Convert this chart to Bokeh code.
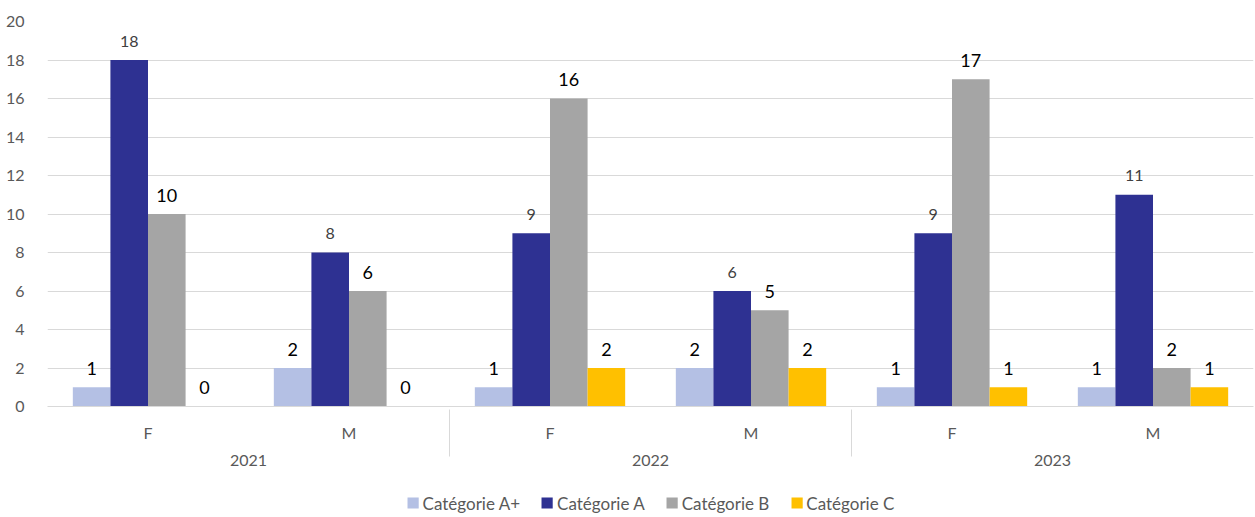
from bokeh.plotting import figure
from bokeh.layouts import column
from bokeh.models import FactorRange, Range1d, ColumnDataSource, Legend, LegendItem, FixedTicker
from bokeh.transform import dodge
from bokeh.core.properties import value
from bokeh.embed import file_html
from bokeh.resources import INLINE

# ---- data ----
years = ["2021", "2022", "2023"]
sexes = ["F", "M"]
categories = ["Catégorie A+", "Catégorie A", "Catégorie B", "Catégorie C"]
cat_a_plus = [1, 2, 1, 2, 1, 1]
cat_a = [18, 8, 9, 6, 9, 11]
cat_b = [10, 6, 16, 5, 17, 2]
cat_c = [0, 0, 2, 2, 1, 1]
y_ticks = [0, 2, 4, 6, 8, 10, 12, 14, 16, 18, 20]

colors = ["#b4c0e4", "#2e3192", "#a5a5a5", "#ffc000"]
FONT = "Lato"

factors = [(y, s) for y in years for s in sexes]
series = [cat_a_plus, cat_a, cat_b, cat_c]
keys = ["ap", "a", "b", "c"]
data = {"x": factors}
for k, s in zip(keys, series):
    data[k] = s
    data[k + "_txt"] = [str(v) for v in s]
source = ColumnDataSource(data)

p = figure(
    x_range=FactorRange(*factors, group_padding=0, factor_padding=0, range_padding=0),
    y_range=Range1d(0, 20),
    width=1255, height=488,
    output_backend="svg", toolbar_location=None,
    min_border_left=47, min_border_right=2, min_border_top=21, min_border_bottom=82,
)
p.outline_line_color = None
p.background_fill_color = "white"

bw = 0.187
offsets = [-1.5 * bw, -0.5 * bw, 0.5 * bw, 1.5 * bw]
for i, k in enumerate(keys):
    p.vbar(x=dodge("x", offsets[i], range=p.x_range), top=k, width=bw,
           source=source, fill_color=colors[i], line_color=None)
    if k == "a":
        tcol, tsize = "#404040", "16px"
    else:
        tcol, tsize = "#000000", "18px"
    p.text(x=dodge("x", offsets[i], range=p.x_range), y=k, text=k + "_txt",
           source=source, text_align="center", text_baseline="middle",
           y_offset=-19, text_color=tcol, text_font_size=tsize,
           text_font=value(FONT))

# y axis
p.yaxis.ticker = FixedTicker(ticks=y_ticks)
p.yaxis.axis_line_color = None
p.yaxis.major_tick_line_color = None
p.yaxis.minor_tick_line_color = None
p.yaxis.major_label_standoff = 17
p.yaxis.major_label_text_font = FONT
p.yaxis.major_label_text_font_size = "16px"
p.yaxis.major_label_text_color = "#595959"
p.ygrid.grid_line_color = "#d9d9d9"
p.xgrid.grid_line_color = None

# x axis
xa = p.xaxis[0]
xa.axis_line_color = "#d9d9d9"
xa.major_tick_line_color = None
xa.minor_tick_line_color = None
xa.major_label_text_font = FONT
xa.major_label_text_font_size = "16px"
xa.major_label_text_color = "#595959"
xa.major_label_standoff = 10
xa.group_text_font = FONT
xa.group_text_font_size = "16px"
xa.group_text_font_style = "normal"
xa.group_text_color = "#595959"
xa.separator_line_color = "#d9d9d9"
xa.separator_line_width = 1

# ---- legend strip (separate small figure) ----
lp = figure(width=1255, height=29, x_range=Range1d(0, 1), y_range=Range1d(0, 1),
            x_axis_location=None, y_axis_location=None,
            output_backend="svg", toolbar_location=None,
            min_border_left=0, min_border_right=0, min_border_top=0, min_border_bottom=0)
lp.grid.grid_line_color = None
lp.outline_line_color = None
items = []
for i, name in enumerate(categories):
    # zero-height placeholder bar: only its legend swatch is visible
    lr = lp.vbar(x=[0.5], top=[0], bottom=[0], width=0.0, fill_color=colors[i], line_color=None)
    items.append(LegendItem(label=name, renderers=[lr]))
legend = Legend(items=items, orientation="horizontal", location="center",
                label_text_font=FONT, label_text_font_size="17px",
                label_text_color="#595959", glyph_width=14, glyph_height=14,
                label_standoff=3, spacing=20, border_line_color=None,
                background_fill_alpha=0, padding=2, margin=0)
lp.add_layout(legend, "center")

layout = column(p, lp, spacing=0)
open("out.html", "w").write(file_html(layout, INLINE))
